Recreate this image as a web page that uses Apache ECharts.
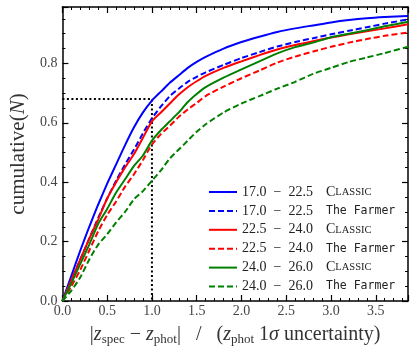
<!DOCTYPE html>
<html>
<head>
<meta charset="utf-8">
<script src="https://cdn.jsdelivr.net/npm/echarts@6/dist/echarts.min.js"></script>
<style>
html, body { margin: 0; padding: 0; background: #fff; }
#chart { width: 415px; height: 351px; }
</style>
</head>
<body>
<div id="chart"></div>
<script>
// x positions (normalised offset) shared by every curve
var xs = [0, 0.1, 0.2, 0.3, 0.4, 0.5, 0.6, 0.7, 0.8, 0.9, 1.0, 1.1, 1.2, 1.3, 1.4, 1.5, 1.6, 1.8, 2.0, 2.2, 2.4, 2.6, 2.8, 3.0, 3.2, 3.4, 3.6, 3.86];

var magRanges = ['17.0 \u2212 22.5', '22.5 \u2212 24.0', '24.0 \u2212 26.0'];
var catalogs = ['Classic', 'The Farmer'];

var blueClassic = [0, 0.085, 0.17, 0.25, 0.325, 0.395, 0.46, 0.525, 0.585, 0.635, 0.675, 0.705, 0.735, 0.76, 0.785, 0.805, 0.822, 0.85, 0.872, 0.89, 0.906, 0.918, 0.928, 0.938, 0.946, 0.952, 0.956, 0.96];
var blueFarmer = [0, 0.07, 0.14, 0.21, 0.28, 0.345, 0.405, 0.46, 0.51, 0.565, 0.615, 0.655, 0.69, 0.715, 0.738, 0.755, 0.77, 0.795, 0.818, 0.838, 0.857, 0.872, 0.885, 0.898, 0.91, 0.922, 0.934, 0.948];
var redClassic = [0, 0.07, 0.14, 0.21, 0.275, 0.345, 0.4, 0.45, 0.495, 0.55, 0.605, 0.635, 0.665, 0.695, 0.72, 0.74, 0.758, 0.785, 0.807, 0.828, 0.847, 0.862, 0.875, 0.887, 0.898, 0.908, 0.918, 0.932];
var redFarmer = [0, 0.05, 0.105, 0.17, 0.235, 0.29, 0.335, 0.385, 0.427, 0.475, 0.527, 0.562, 0.59, 0.62, 0.645, 0.667, 0.69, 0.722, 0.75, 0.776, 0.803, 0.823, 0.84, 0.856, 0.87, 0.882, 0.893, 0.904];
var greenClassic = [0, 0.06, 0.125, 0.19, 0.26, 0.31, 0.365, 0.41, 0.455, 0.49, 0.54, 0.575, 0.605, 0.635, 0.67, 0.697, 0.72, 0.752, 0.78, 0.807, 0.834, 0.855, 0.87, 0.888, 0.9, 0.912, 0.925, 0.94];
var greenFarmer = [0, 0.035, 0.08, 0.14, 0.19, 0.225, 0.265, 0.3, 0.343, 0.37, 0.405, 0.44, 0.48, 0.51, 0.54, 0.57, 0.595, 0.635, 0.665, 0.69, 0.715, 0.738, 0.765, 0.785, 0.805, 0.82, 0.835, 0.856];

// 1-sigma guide
var sigmaX = [0, 1.0, 1.0];
var sigmaY = [0.68, 0.68, 0];

var xTicks = { min: 0, max: 3.86, interval: 0.5 };
var yTicks = { min: 0, max: 0.99, interval: 0.2 };

var curves = [
    { range: 0, cat: 0, color: '#0000ff', dash: false, values: blueClassic },
    { range: 0, cat: 1, color: '#0000ff', dash: true, values: blueFarmer },
    { range: 1, cat: 0, color: '#ff0000', dash: false, values: redClassic },
    { range: 1, cat: 1, color: '#ff0000', dash: true, values: redFarmer },
    { range: 2, cat: 0, color: '#008000', dash: false, values: greenClassic },
    { range: 2, cat: 1, color: '#008000', dash: true, values: greenFarmer }
];

function pairs(xv, yv) {
    return xv.map(function (x, i) { return [x, yv[i]]; });
}

var serif = 'Liberation Serif';
var series = curves.map(function (c) {
    return {
        name: magRanges[c.range] + ' ' + catalogs[c.cat],
        type: 'line',
        symbol: 'none',
        smooth: 0.2,
        data: pairs(xs, c.values),
        lineStyle: { color: c.color, width: 2, type: c.dash ? [6, 3] : 'solid' },
        itemStyle: { color: c.color },
        z: 3
    };
});
series.push({
    name: 'sigma',
    type: 'line',
    symbol: 'none',
    data: pairs(sigmaX, sigmaY),
    lineStyle: { color: '#000', width: 2, type: [2, 2.5] },
    z: 2
});

function mirrorAxis(pos, t, minorSplit) {
    return {
        type: 'value',
        position: pos,
        min: t.min, max: t.max, interval: t.interval,
        axisLine: { show: true, onZero: false, lineStyle: { color: '#000', width: 1.5 } },
        axisTick: { show: true, inside: true, length: 6, lineStyle: { color: '#000', width: 1.2 } },
        minorTick: { show: true, splitNumber: minorSplit, length: 3, lineStyle: { color: '#000', width: 1 } },
        axisLabel: { show: false },
        splitLine: { show: false }
    };
}

var chart = echarts.init(document.getElementById('chart'));
var option = {
    animation: false,
    grid: { left: 51, right: 7, top: 7, bottom: 48 },
    legend: {
        data: series.slice(0, 6).map(function (s) { return s.name; }),
        orient: 'vertical',
        left: 203,
        top: 180,
        itemWidth: 28,
        itemHeight: 14,
        itemGap: 4.9,
        itemStyle: { opacity: 0 },
        formatter: function (name) {
            var c = curves[series.findIndex(function (s) { return s.name === name; })];
            var tail = c.cat === 0 ? '{c|C}{s|LASSIC}' : '{t|' + catalogs[1] + '}';
            return '{n|' + magRanges[c.range].replace(' \u2212 ', '  \u2212  ') + '}' + tail;
        },
        textStyle: {
            rich: {
                n: { fontFamily: serif, fontSize: 14, color: '#222', width: 84 },
                c: { fontFamily: serif, fontSize: 14, color: '#222' },
                s: { fontFamily: serif, fontSize: 10.5, color: '#222' },
                t: { fontFamily: 'DejaVu Sans Mono', fontSize: 11.5, color: '#222' }
            }
        }
    },
    xAxis: [{
        type: 'value',
        min: xTicks.min, max: xTicks.max, interval: xTicks.interval,
        axisLine: { show: true, onZero: false, lineStyle: { color: '#000', width: 1.5 } },
        axisTick: { show: true, inside: true, length: 6, lineStyle: { color: '#000', width: 1.2 } },
        minorTick: { show: true, splitNumber: 5, length: 3, lineStyle: { color: '#000', width: 1 } },
        axisLabel: { show: true, showMaxLabel: false, margin: 3, fontFamily: serif, fontSize: 14, color: '#444',
            formatter: function (v) { return v.toFixed(1); } },
        splitLine: { show: false },
        name: '{b||}{i|z}{sub|spec}{b| \u2212 }{i|z}{sub|phot}{b||   /   (}{i|z}{sub|phot}{b| 1}{i|\u03c3}{b| uncertainty)}',
        nameLocation: 'middle',
        nameGap: 23,
        nameTextStyle: {
            rich: {
                b: { fontFamily: serif, fontSize: 20, color: '#333', lineHeight: 22 },
                i: { fontFamily: serif, fontStyle: 'italic', fontSize: 20, color: '#333', lineHeight: 22 },
                sub: { fontFamily: serif, fontSize: 13, color: '#333', verticalAlign: 'bottom', lineHeight: 12 }
            }
        }
    }, mirrorAxis('top', xTicks, 5)],
    yAxis: [{
        type: 'value',
        min: yTicks.min, max: yTicks.max, interval: yTicks.interval,
        axisLine: { show: true, onZero: false, lineStyle: { color: '#000', width: 1.5 } },
        axisTick: { show: true, inside: true, length: 6, lineStyle: { color: '#000', width: 1.2 } },
        minorTick: { show: true, splitNumber: 4, length: 3, lineStyle: { color: '#000', width: 1 } },
        axisLabel: { show: true, showMaxLabel: false, margin: 5, fontFamily: serif, fontSize: 14, color: '#444',
            formatter: function (v) { return v.toFixed(1); } },
        splitLine: { show: false },
        name: '{a|cumulative(}{i|N}{a|)}',
        nameLocation: 'middle',
        nameRotate: 90,
        nameGap: 33,
        nameTextStyle: {
            rich: {
                a: { fontFamily: serif, fontSize: 21, color: '#333' },
                i: { fontFamily: serif, fontStyle: 'italic', fontSize: 21, color: '#333' }
            }
        }
    }, mirrorAxis('right', yTicks, 4)],
    series: series
};
chart.setOption(option);
</script>
</body>
</html>
